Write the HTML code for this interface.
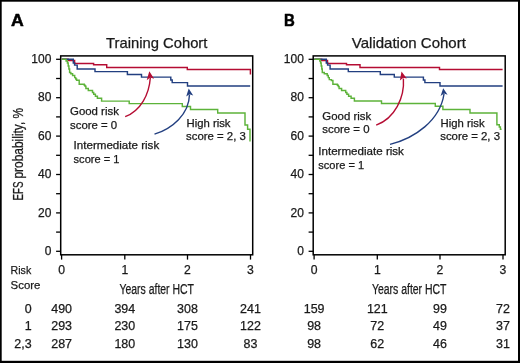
<!DOCTYPE html>
<html><head><meta charset="utf-8"><style>
html,body{margin:0;padding:0;background:#fff;}
body{width:520px;height:363px;overflow:hidden;}
svg{display:block;will-change:transform;}
text{stroke:#1a1a1a;stroke-width:0.25px;}
</style></head><body>
<svg width="520" height="363" viewBox="0 0 520 363" font-family='"Liberation Sans", sans-serif' fill="#1a1a1a">
<rect x="0" y="0" width="520" height="363" fill="#fff"/>
<rect x="60.7" y="55.9" width="192.00" height="198.90" fill="none" stroke="#000" stroke-width="1.5"/>
<line x1="56.10" y1="59.30" x2="60.70" y2="59.30" stroke="#000" stroke-width="1.3"/>
<line x1="56.10" y1="78.50" x2="60.70" y2="78.50" stroke="#000" stroke-width="1.3"/>
<line x1="56.10" y1="97.70" x2="60.70" y2="97.70" stroke="#000" stroke-width="1.3"/>
<line x1="56.10" y1="116.90" x2="60.70" y2="116.90" stroke="#000" stroke-width="1.3"/>
<line x1="56.10" y1="136.10" x2="60.70" y2="136.10" stroke="#000" stroke-width="1.3"/>
<line x1="56.10" y1="155.30" x2="60.70" y2="155.30" stroke="#000" stroke-width="1.3"/>
<line x1="56.10" y1="174.50" x2="60.70" y2="174.50" stroke="#000" stroke-width="1.3"/>
<line x1="56.10" y1="193.70" x2="60.70" y2="193.70" stroke="#000" stroke-width="1.3"/>
<line x1="56.10" y1="212.90" x2="60.70" y2="212.90" stroke="#000" stroke-width="1.3"/>
<line x1="56.10" y1="232.10" x2="60.70" y2="232.10" stroke="#000" stroke-width="1.3"/>
<line x1="56.10" y1="251.30" x2="60.70" y2="251.30" stroke="#000" stroke-width="1.3"/>
<text x="51.40" y="62.90" text-anchor="end" font-size="12.2" textLength="20.05" lengthAdjust="spacingAndGlyphs">100</text>
<text x="51.40" y="101.30" text-anchor="end" font-size="12.2" textLength="13.37" lengthAdjust="spacingAndGlyphs">80</text>
<text x="51.40" y="139.70" text-anchor="end" font-size="12.2" textLength="13.37" lengthAdjust="spacingAndGlyphs">60</text>
<text x="51.40" y="178.10" text-anchor="end" font-size="12.2" textLength="13.37" lengthAdjust="spacingAndGlyphs">40</text>
<text x="51.40" y="216.50" text-anchor="end" font-size="12.2" textLength="13.37" lengthAdjust="spacingAndGlyphs">20</text>
<text x="51.40" y="254.90" text-anchor="end" font-size="12.2" textLength="6.68" lengthAdjust="spacingAndGlyphs">0</text>
<line x1="61.60" y1="254.80" x2="61.60" y2="259.6" stroke="#000" stroke-width="1.3"/>
<text x="61.60" y="274.0" text-anchor="middle" font-size="12.2">0</text>
<line x1="124.80" y1="254.80" x2="124.80" y2="259.6" stroke="#000" stroke-width="1.3"/>
<text x="124.80" y="274.0" text-anchor="middle" font-size="12.2">1</text>
<line x1="187.50" y1="254.80" x2="187.50" y2="259.6" stroke="#000" stroke-width="1.3"/>
<text x="187.50" y="274.0" text-anchor="middle" font-size="12.2">2</text>
<line x1="250.50" y1="254.80" x2="250.50" y2="259.6" stroke="#000" stroke-width="1.3"/>
<text x="250.50" y="274.0" text-anchor="middle" font-size="12.2">3</text>
<text x="119.40" y="294.4" font-size="14" textLength="74.6" lengthAdjust="spacingAndGlyphs">Years after HCT</text>
<text x="106.00" y="47.9" font-size="14.6" textLength="101.40" lengthAdjust="spacingAndGlyphs">Training Cohort</text>
<text transform="translate(10.95,26.35) scale(1.040,1)" font-size="17.0" font-weight="bold" fill="#000" style="stroke:#000;stroke-width:0.55px;stroke-linejoin:round">A</text>
<path d="M61.80,59.30 L68.20,59.30 L68.20,60.40 L74.60,60.40 L74.60,63.40 L93.60,63.40 L93.60,64.70 L106.70,64.70 L106.70,67.50 L187.30,67.50 L187.30,69.40 L250.40,69.40 L250.40,74.60" fill="none" stroke="#b50c33" stroke-width="1.45" stroke-linejoin="miter"/>
<path d="M61.80,59.30 L73.30,59.30 L73.30,63.00 L74.60,63.00 L74.60,65.10 L77.20,65.10 L77.20,68.90 L95.00,68.90 L95.00,71.60 L127.40,71.60 L127.40,74.40 L141.50,74.40 L141.50,77.10 L170.80,77.10 L170.80,80.00 L172.20,80.00 L172.20,82.60 L187.50,82.60 L187.50,86.00 L250.20,86.00" fill="none" stroke="#223f80" stroke-width="1.45" stroke-linejoin="miter"/>
<path d="M61.80,59.30 L66.10,59.30 L66.10,61.00 L67.40,61.00 L67.40,63.00 L68.20,63.00 L68.20,66.00 L68.90,66.00 L68.90,69.00 L69.60,69.00 L69.60,72.50 L70.80,72.50 L70.80,73.80 L72.60,73.80 L72.60,75.40 L74.70,75.40 L74.70,77.60 L75.70,77.60 L75.70,79.00 L76.60,79.00 L76.60,80.30 L79.20,80.30 L79.20,84.30 L84.30,84.30 L84.30,85.30 L85.10,85.30 L85.10,86.30 L85.90,86.30 L85.90,88.40 L88.30,88.40 L88.30,90.50 L92.50,90.50 L92.50,92.50 L93.70,92.50 L93.70,94.20 L95.40,94.20 L95.40,96.20 L97.40,96.20 L97.40,98.30 L101.60,98.30 L101.60,101.10 L129.20,101.10 L129.20,103.60 L182.30,103.60 L182.30,106.40 L190.50,106.40 L190.50,109.50 L217.70,109.50 L217.70,112.90 L245.00,112.90 L245.00,125.00 L247.60,125.00 L247.60,129.30 L250.00,129.30 L250.00,141.60" fill="none" stroke="#5db33a" stroke-width="1.45" stroke-linejoin="miter"/>
<path d="M125.20,116.70 C141.00,110.49 149.18,94.11 150.30,78.00" fill="none" stroke="#b50c33" stroke-width="1.4"/>
<path d="M149.3,71.3 L154.1,78.8 L150.3,77.6 L146.7,80.2 Z" fill="#b50c33"/>
<path d="M154.50,134.20 C172.24,128.60 189.05,114.39 189.50,94.50" fill="none" stroke="#223f80" stroke-width="1.4"/>
<path d="M188.7,88.4 L193.2,95.6 L189.5,94.2 L186.2,96.6 Z" fill="#223f80"/>
<text x="70.00" y="114.90" font-size="10.7" textLength="48.90" lengthAdjust="spacingAndGlyphs">Good risk</text>
<text x="70.00" y="128.70" font-size="10.7" textLength="47.20" lengthAdjust="spacingAndGlyphs">score = 0</text>
<text x="73.60" y="149.00" font-size="10.7" textLength="85.60" lengthAdjust="spacingAndGlyphs">Intermediate risk</text>
<text x="73.60" y="162.50" font-size="10.7" textLength="45.80" lengthAdjust="spacingAndGlyphs">score = 1</text>
<text x="186.50" y="126.80" font-size="10.7" textLength="44.00" lengthAdjust="spacingAndGlyphs">High risk</text>
<text x="186.00" y="139.90" font-size="10.7" textLength="59.80" lengthAdjust="spacingAndGlyphs">score = 2, 3</text>
<text x="61.60" y="312.60" text-anchor="middle" font-size="12.1" textLength="20.79" lengthAdjust="spacingAndGlyphs">490</text>
<text x="124.80" y="312.60" text-anchor="middle" font-size="12.1" textLength="20.79" lengthAdjust="spacingAndGlyphs">394</text>
<text x="187.50" y="312.60" text-anchor="middle" font-size="12.1" textLength="20.79" lengthAdjust="spacingAndGlyphs">308</text>
<text x="250.50" y="312.60" text-anchor="middle" font-size="12.1" textLength="20.79" lengthAdjust="spacingAndGlyphs">241</text>
<text x="61.60" y="330.30" text-anchor="middle" font-size="12.1" textLength="20.79" lengthAdjust="spacingAndGlyphs">293</text>
<text x="124.80" y="330.30" text-anchor="middle" font-size="12.1" textLength="20.79" lengthAdjust="spacingAndGlyphs">230</text>
<text x="187.50" y="330.30" text-anchor="middle" font-size="12.1" textLength="20.79" lengthAdjust="spacingAndGlyphs">175</text>
<text x="250.50" y="330.30" text-anchor="middle" font-size="12.1" textLength="20.79" lengthAdjust="spacingAndGlyphs">122</text>
<text x="61.60" y="348.00" text-anchor="middle" font-size="12.1" textLength="20.79" lengthAdjust="spacingAndGlyphs">287</text>
<text x="124.80" y="348.00" text-anchor="middle" font-size="12.1" textLength="20.79" lengthAdjust="spacingAndGlyphs">180</text>
<text x="187.50" y="348.00" text-anchor="middle" font-size="12.1" textLength="20.79" lengthAdjust="spacingAndGlyphs">130</text>
<text x="250.50" y="348.00" text-anchor="middle" font-size="12.1" textLength="13.86" lengthAdjust="spacingAndGlyphs">83</text>
<rect x="313.2" y="55.9" width="192.00" height="198.90" fill="none" stroke="#000" stroke-width="1.5"/>
<line x1="308.60" y1="59.30" x2="313.20" y2="59.30" stroke="#000" stroke-width="1.3"/>
<line x1="308.60" y1="78.50" x2="313.20" y2="78.50" stroke="#000" stroke-width="1.3"/>
<line x1="308.60" y1="97.70" x2="313.20" y2="97.70" stroke="#000" stroke-width="1.3"/>
<line x1="308.60" y1="116.90" x2="313.20" y2="116.90" stroke="#000" stroke-width="1.3"/>
<line x1="308.60" y1="136.10" x2="313.20" y2="136.10" stroke="#000" stroke-width="1.3"/>
<line x1="308.60" y1="155.30" x2="313.20" y2="155.30" stroke="#000" stroke-width="1.3"/>
<line x1="308.60" y1="174.50" x2="313.20" y2="174.50" stroke="#000" stroke-width="1.3"/>
<line x1="308.60" y1="193.70" x2="313.20" y2="193.70" stroke="#000" stroke-width="1.3"/>
<line x1="308.60" y1="212.90" x2="313.20" y2="212.90" stroke="#000" stroke-width="1.3"/>
<line x1="308.60" y1="232.10" x2="313.20" y2="232.10" stroke="#000" stroke-width="1.3"/>
<line x1="308.60" y1="251.30" x2="313.20" y2="251.30" stroke="#000" stroke-width="1.3"/>
<text x="303.90" y="62.90" text-anchor="end" font-size="12.2" textLength="20.05" lengthAdjust="spacingAndGlyphs">100</text>
<text x="303.90" y="101.30" text-anchor="end" font-size="12.2" textLength="13.37" lengthAdjust="spacingAndGlyphs">80</text>
<text x="303.90" y="139.70" text-anchor="end" font-size="12.2" textLength="13.37" lengthAdjust="spacingAndGlyphs">60</text>
<text x="303.90" y="178.10" text-anchor="end" font-size="12.2" textLength="13.37" lengthAdjust="spacingAndGlyphs">40</text>
<text x="303.90" y="216.50" text-anchor="end" font-size="12.2" textLength="13.37" lengthAdjust="spacingAndGlyphs">20</text>
<text x="303.90" y="254.90" text-anchor="end" font-size="12.2" textLength="6.68" lengthAdjust="spacingAndGlyphs">0</text>
<line x1="314.10" y1="254.80" x2="314.10" y2="259.6" stroke="#000" stroke-width="1.3"/>
<text x="314.10" y="274.0" text-anchor="middle" font-size="12.2">0</text>
<line x1="377.30" y1="254.80" x2="377.30" y2="259.6" stroke="#000" stroke-width="1.3"/>
<text x="377.30" y="274.0" text-anchor="middle" font-size="12.2">1</text>
<line x1="440.00" y1="254.80" x2="440.00" y2="259.6" stroke="#000" stroke-width="1.3"/>
<text x="440.00" y="274.0" text-anchor="middle" font-size="12.2">2</text>
<line x1="503.00" y1="254.80" x2="503.00" y2="259.6" stroke="#000" stroke-width="1.3"/>
<text x="503.00" y="274.0" text-anchor="middle" font-size="12.2">3</text>
<text x="371.90" y="294.4" font-size="14" textLength="74.6" lengthAdjust="spacingAndGlyphs">Years after HCT</text>
<text x="351.80" y="47.9" font-size="14.6" textLength="114.10" lengthAdjust="spacingAndGlyphs">Validation Cohort</text>
<text transform="translate(284.00,25.90) scale(0.900,1)" font-size="16.6" font-weight="bold" fill="#000" style="stroke:#000;stroke-width:0.55px;stroke-linejoin:round">B</text>
<path d="M314.30,59.30 L321.70,59.30 L321.70,60.40 L327.50,60.40 L327.50,63.40 L346.50,63.40 L346.50,64.80 L360.00,64.80 L360.00,67.50 L439.50,67.50 L439.50,69.40 L502.60,69.40" fill="none" stroke="#b50c33" stroke-width="1.45" stroke-linejoin="miter"/>
<path d="M314.30,59.30 L326.30,59.30 L326.30,63.00 L327.60,63.00 L327.60,65.10 L330.10,65.10 L330.10,68.90 L348.30,68.90 L348.30,71.60 L380.30,71.60 L380.30,74.40 L394.30,74.40 L394.30,77.10 L423.40,77.10 L423.40,80.00 L424.90,80.00 L424.90,82.60 L440.00,82.60 L440.00,86.00 L502.60,86.00" fill="none" stroke="#223f80" stroke-width="1.45" stroke-linejoin="miter"/>
<path d="M314.30,59.30 L319.80,59.30 L319.80,61.00 L320.60,61.00 L320.60,63.00 L321.20,63.00 L321.20,66.00 L321.80,66.00 L321.80,69.00 L322.30,69.00 L322.30,72.50 L324.30,72.50 L324.30,73.80 L327.20,73.80 L327.20,75.40 L328.30,75.40 L328.30,77.60 L329.30,77.60 L329.30,79.60 L331.40,79.60 L331.40,80.40 L332.90,80.40 L332.90,84.30 L337.40,84.30 L337.40,85.30 L338.30,85.30 L338.30,86.40 L339.10,86.40 L339.10,88.40 L341.60,88.40 L341.60,90.50 L345.70,90.50 L345.70,92.50 L346.90,92.50 L346.90,94.20 L348.60,94.20 L348.60,96.20 L351.10,96.20 L351.10,98.30 L354.40,98.30 L354.40,100.90 L381.50,100.90 L381.50,103.50 L435.30,103.50 L435.30,106.30 L442.90,106.30 L442.90,109.40 L470.00,109.40 L470.00,112.90 L496.90,112.90 L496.90,124.80 L499.30,124.80 L499.30,127.00 L500.40,127.00 L500.40,129.20 L501.60,129.20" fill="none" stroke="#5db33a" stroke-width="1.45" stroke-linejoin="miter"/>
<path d="M376.20,125.10 C394.88,118.30 404.78,97.39 403.40,78.50" fill="none" stroke="#b50c33" stroke-width="1.4"/>
<path d="M401.5,71.5 L406.8,78.4 L403.3,77.8 L399.9,80.4 Z" fill="#b50c33"/>
<path d="M390.00,144.40 C414.55,138.36 440.02,120.56 444.00,94.00" fill="none" stroke="#223f80" stroke-width="1.4"/>
<path d="M443.2,88.3 L447.6,94.7 L444.0,93.6 L440.6,95.9 Z" fill="#223f80"/>
<text x="322.30" y="119.50" font-size="10.7" textLength="48.90" lengthAdjust="spacingAndGlyphs">Good risk</text>
<text x="322.30" y="133.10" font-size="10.7" textLength="47.20" lengthAdjust="spacingAndGlyphs">score = 0</text>
<text x="318.30" y="155.40" font-size="10.7" textLength="85.60" lengthAdjust="spacingAndGlyphs">Intermediate risk</text>
<text x="318.30" y="168.80" font-size="10.7" textLength="45.80" lengthAdjust="spacingAndGlyphs">score = 1</text>
<text x="440.60" y="126.80" font-size="10.7" textLength="44.00" lengthAdjust="spacingAndGlyphs">High risk</text>
<text x="440.20" y="139.90" font-size="10.7" textLength="59.80" lengthAdjust="spacingAndGlyphs">score = 2, 3</text>
<text x="314.10" y="312.60" text-anchor="middle" font-size="12.1" textLength="20.79" lengthAdjust="spacingAndGlyphs">159</text>
<text x="377.30" y="312.60" text-anchor="middle" font-size="12.1" textLength="20.79" lengthAdjust="spacingAndGlyphs">121</text>
<text x="440.00" y="312.60" text-anchor="middle" font-size="12.1" textLength="13.86" lengthAdjust="spacingAndGlyphs">99</text>
<text x="503.00" y="312.60" text-anchor="middle" font-size="12.1" textLength="13.86" lengthAdjust="spacingAndGlyphs">72</text>
<text x="314.10" y="330.30" text-anchor="middle" font-size="12.1" textLength="13.86" lengthAdjust="spacingAndGlyphs">98</text>
<text x="377.30" y="330.30" text-anchor="middle" font-size="12.1" textLength="13.86" lengthAdjust="spacingAndGlyphs">72</text>
<text x="440.00" y="330.30" text-anchor="middle" font-size="12.1" textLength="13.86" lengthAdjust="spacingAndGlyphs">49</text>
<text x="503.00" y="330.30" text-anchor="middle" font-size="12.1" textLength="13.86" lengthAdjust="spacingAndGlyphs">37</text>
<text x="314.10" y="348.00" text-anchor="middle" font-size="12.1" textLength="13.86" lengthAdjust="spacingAndGlyphs">98</text>
<text x="377.30" y="348.00" text-anchor="middle" font-size="12.1" textLength="13.86" lengthAdjust="spacingAndGlyphs">62</text>
<text x="440.00" y="348.00" text-anchor="middle" font-size="12.1" textLength="13.86" lengthAdjust="spacingAndGlyphs">46</text>
<text x="503.00" y="348.00" text-anchor="middle" font-size="12.1" textLength="13.86" lengthAdjust="spacingAndGlyphs">31</text>
<text transform="translate(22.9,200.6) rotate(-90)" font-size="14.2" textLength="19.0" lengthAdjust="spacingAndGlyphs">EFS</text>
<text transform="translate(22.9,178.6) rotate(-90)" font-size="14.2" textLength="70.8" lengthAdjust="spacingAndGlyphs">probability, %</text>
<text x="10.6" y="274.2" font-size="11.5" textLength="20.6" lengthAdjust="spacingAndGlyphs">Risk</text>
<text x="10.6" y="288.6" font-size="11.5" textLength="29.8" lengthAdjust="spacingAndGlyphs">Score</text>
<text x="31.6" y="312.60" text-anchor="end" font-size="12.1" textLength="6.93" lengthAdjust="spacingAndGlyphs">0</text>
<text x="31.6" y="330.30" text-anchor="end" font-size="12.1" textLength="6.93" lengthAdjust="spacingAndGlyphs">1</text>
<text x="31.6" y="348.00" text-anchor="end" font-size="12.1" textLength="17.33" lengthAdjust="spacingAndGlyphs">2,3</text>
<rect x="0" y="0" width="520" height="1.7" fill="#000"/>
<rect x="0" y="0" width="1.7" height="363" fill="#000"/>
<rect x="518.0" y="0" width="2.0" height="363" fill="#000"/>
<rect x="0" y="360.8" width="520" height="2.2" fill="#000"/>
</svg>
</body></html>
